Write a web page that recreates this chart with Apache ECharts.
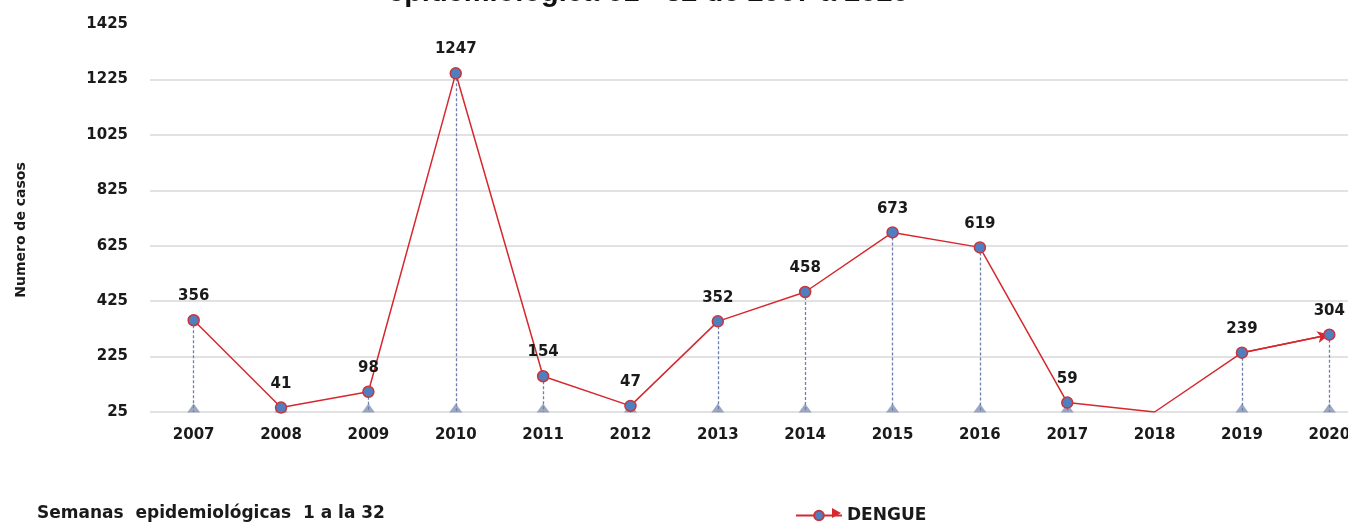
<!DOCTYPE html>
<html>
<head>
<meta charset="utf-8">
<script src="https://cdn.jsdelivr.net/npm/echarts@6/dist/echarts.min.js"></script>
<style>
  html, body { margin: 0; padding: 0; background: #fff; overflow: hidden; }
  #chart { width: 1373px; height: 523px; }
</style>
</head>
<body>
<div id="chart"></div>
<script>
// datos
const years = ['2007', '2008', '2009', '2010', '2011', '2012', '2013', '2014', '2015', '2016', '2017', '2018', '2019', '2020'];
const dengue = [356, 41, 98, 1247, 154, 47, 352, 458, 673, 619, 59, 25, 239, 304];
const sinDato = ['2018']; // sin marcador ni etiqueta
const yMin = 25;
const yMax = 1425;
const yStep = 200;

const font = '"DejaVu Sans", sans-serif';
const dark = '#1a1a1a';

// el grafico original queda cortado a la derecha: el div es mas ancho que la ventana
const myChart = echarts.init(document.getElementById('chart'));

const serieData = dengue.map((v, i) => {
    if (sinDato.indexOf(years[i]) !== -1) {
        return { value: v, symbol: 'none', label: { show: false } };
    }
    return v;
});

// lineas verticales punteadas hasta el eje
const caidas = [];
years.forEach((y, i) => {
    if (sinDato.indexOf(y) !== -1) return;
    caidas.push([{ coord: [y, dengue[i]] }, { coord: [y, yMin] }]);
});
// flecha final
const n = years.length;
const flecha = [
    { coord: [years[n - 2], dengue[n - 2]], symbol: 'none', lineStyle: { type: 'solid', color: '#d6282e', width: 1.5 } },
    { coord: [years[n - 1], dengue[n - 1]], symbol: 'arrow', symbolSize: [9, 12] }
];

const triangulos = years.filter(y => sinDato.indexOf(y) === -1).map(y => [y, yMin]);

const nLineas = (yMax - yMin) / yStep + 1;
const coloresGrid = [];
for (let i = 0; i < nLineas; i++) coloresGrid.push(i === nLineas - 1 ? 'rgba(0,0,0,0)' : '#d9d9d9');

const option = {
    animation: false,
    title: [{
        text: 'epidemiológica 01 - 32 de 2007 a 2020',
        left: 388,
        top: -22,
        padding: 0,
        textStyle: { fontFamily: '"Liberation Sans", Arial, sans-serif', fontWeight: 'bold', fontSize: 29, lineHeight: 29, color: '#111' }
    }, {
        text: 'Semanas  epidemiológicas  1 a la 32',
        left: 37,
        top: 505,
        padding: 0,
        textStyle: { fontFamily: font, fontWeight: 'bold', fontSize: 17, color: dark }
    }],
    legend: {
        data: ['DENGUE'],
        left: 795,
        top: 507,
        padding: 0,
        itemWidth: 46,
        itemHeight: 12,
        textStyle: { fontFamily: font, fontWeight: 'bold', fontSize: 17, color: dark }
    },
    graphic: [{
        type: 'polygon',
        shape: { points: [[832, 508], [841, 513], [832, 518]] },
        style: { fill: '#d6282e' },
        z: 100
    }],
    grid: { left: 150, right: 0, top: 24, bottom: 111, containLabel: false },
    xAxis: {
        type: 'category',
        data: years,
        boundaryGap: true,
        axisLine: { show: false },
        axisTick: { show: false },
        axisLabel: { margin: 16, fontFamily: font, fontWeight: 'bold', fontSize: 15, color: dark }
    },
    yAxis: {
        type: 'value',
        min: yMin,
        max: yMax,
        interval: yStep,
        name: 'Numero de casos',
        nameLocation: 'middle',
        nameRotate: 90,
        nameGap: 122,
        nameTextStyle: { fontFamily: font, fontWeight: 'bold', fontSize: 14, color: dark, padding: [0, 24, 0, 0] },
        axisLine: { show: false },
        axisTick: { show: false },
        splitLine: { lineStyle: { color: coloresGrid, width: 1.5 } },
        axisLabel: {
            margin: 22, fontFamily: font, fontWeight: 'bold', fontSize: 15, color: dark,
            formatter: v => String(v)
        }
    },
    series: [{
        name: 'DENGUE',
        type: 'line',
        data: serieData,
        symbol: 'circle',
        symbolSize: 11,
        z: 5,
        lineStyle: { color: '#d6282e', width: 1.5 },
        itemStyle: { color: '#4f7fc0', borderColor: '#c8353b', borderWidth: 1.5 },
        label: {
            show: true,
            position: 'top',
            distance: 10,
            fontFamily: font,
            fontWeight: 'bold',
            fontSize: 15,
            color: dark
        },
        markLine: {
            silent: true,
            symbol: 'none',
            label: { show: false },
            lineStyle: { type: [3, 2], color: '#6d80ad', width: 1.3 },
            data: caidas.concat([flecha])
        }
    }, {
        name: 'eje',
        type: 'scatter',
        data: triangulos,
        symbol: 'triangle',
        symbolSize: [13, 9],
        symbolOffset: [0, -4],
        z: 3,
        itemStyle: { color: '#8593b3' },
        silent: true
    }]
};
myChart.setOption(option);
</script>
</body>
</html>
